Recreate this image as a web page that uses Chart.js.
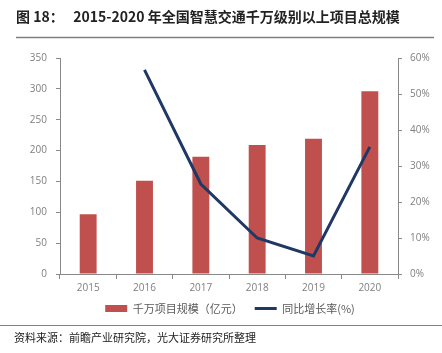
<!DOCTYPE html>
<html>
<head>
<meta charset="utf-8">
<script src="https://cdn.jsdelivr.net/npm/chart.js@4"></script>
<style>
  html, body { margin: 0; padding: 0; background: #fff; }
  #wrap { width: 442px; height: 353px; position: relative; }
</style>
</head>
<body>
<div id="wrap"><canvas id="chart" width="442" height="353"></canvas></div>
<script>
// values
const years = ["2015", "2016", "2017", "2018", "2019", "2020"];
const scaleValues = [97, 151, 190, 209, 219, 296];
const growthValues = [null, 56.7, 25, 10, 5, 35.3];
const leftTicks = [0, 50, 100, 150, 200, 250, 300, 350];
const rightTicks = [0, 10, 20, 30, 40, 50, 60];

const titleText = "图 18：   2015-2020 年全国智慧交通千万级别以上项目总规模";
const sourceText = "资料来源：前瞻产业研究院，光大证券研究所整理";

const cjk = '"Noto Sans CJK SC", "Noto Sans", sans-serif';
const tickFont = { family: '"Open Sans", "Noto Sans", sans-serif', size: 10 };

// title, rules and source line drawn on the same canvas
const framePlugin = {
    id: 'frame',
    afterDraw(chart) {
        const ctx = chart.ctx;
        ctx.save();
        ctx.fillStyle = '#222';
        ctx.font = 'bold 14px ' + cjk;
        ctx.textBaseline = 'middle';
        ctx.fillText(titleText, 16, 17);

        ctx.strokeStyle = '#7f7f7f';
        ctx.lineWidth = 1.5;
        ctx.beginPath();
        ctx.moveTo(16, 37.5);
        ctx.lineTo(434, 37.5);
        ctx.stroke();

        ctx.lineWidth = 1;
        ctx.beginPath();
        ctx.moveTo(0, 325.5);
        ctx.lineTo(442, 325.5);
        ctx.stroke();

        ctx.fillStyle = '#222';
        ctx.font = '11px ' + cjk;
        ctx.fillText(sourceText, 14, 338);
        ctx.restore();
    }
};

new Chart(document.getElementById('chart'), {
    data: {
        labels: years,
        datasets: [{
            type: 'line',
            label: '同比增长率(%)',
            data: growthValues,
            yAxisID: 'y1',
            borderColor: '#1f3864',
            backgroundColor: '#1f3864',
            borderWidth: 3,
            pointRadius: 0,
            tension: 0,
            pointStyle: 'line',
            order: 0
        }, {
            type: 'bar',
            label: '千万项目规模（亿元）',
            data: scaleValues,
            yAxisID: 'y',
            backgroundColor: '#c0504d',
            borderWidth: 0,
            barPercentage: 0.3,
            categoryPercentage: 1,
            pointStyle: 'rect',
            order: 1
        }]
    },
    options: {
        responsive: false,
        animation: false,
        layout: { padding: { top: 58, left: 18, right: 0, bottom: 29 } },
        plugins: {
            legend: {
                position: 'bottom',
                reverse: true,
                labels: {
                    usePointStyle: true,
                    pointStyleWidth: 22,
                    boxHeight: 7,
                    padding: 12,
                    color: '#595959',
                    font: { family: cjk, size: 11 }
                }
            },
            tooltip: { enabled: false }
        },
        scales: {
            x: {
                offset: true,
                grid: { offset: true, drawOnChartArea: false, drawTicks: true, tickLength: 5, color: '#898989' },
                border: { color: '#898989', width: 1 },
                ticks: { color: '#7f7f7f', font: tickFont, padding: 3 },
                afterFit(scale) { scale.height = 17; }
            },
            y: {
                position: 'left',
                min: 0,
                max: 350,
                afterBuildTicks(scale) { scale.ticks = leftTicks.map(v => ({ value: v })); },
                grid: { drawOnChartArea: false, drawTicks: true, tickLength: 4, color: '#898989' },
                border: { color: '#898989', width: 1 },
                ticks: { color: '#7f7f7f', font: tickFont, padding: 9 },
                afterFit(scale) { scale.width = 42; }
            },
            y1: {
                position: 'right',
                min: 0,
                max: 60,
                afterBuildTicks(scale) { scale.ticks = rightTicks.map(v => ({ value: v })); },
                grid: { drawOnChartArea: false, drawTicks: true, tickLength: 4, color: '#898989' },
                border: { color: '#898989', width: 1 },
                ticks: { color: '#7f7f7f', font: tickFont, padding: 8, callback: v => v + '%' },
                afterFit(scale) { scale.width = 44; }
            }
        }
    },
    plugins: [framePlugin]
});
</script>
</body>
</html>
